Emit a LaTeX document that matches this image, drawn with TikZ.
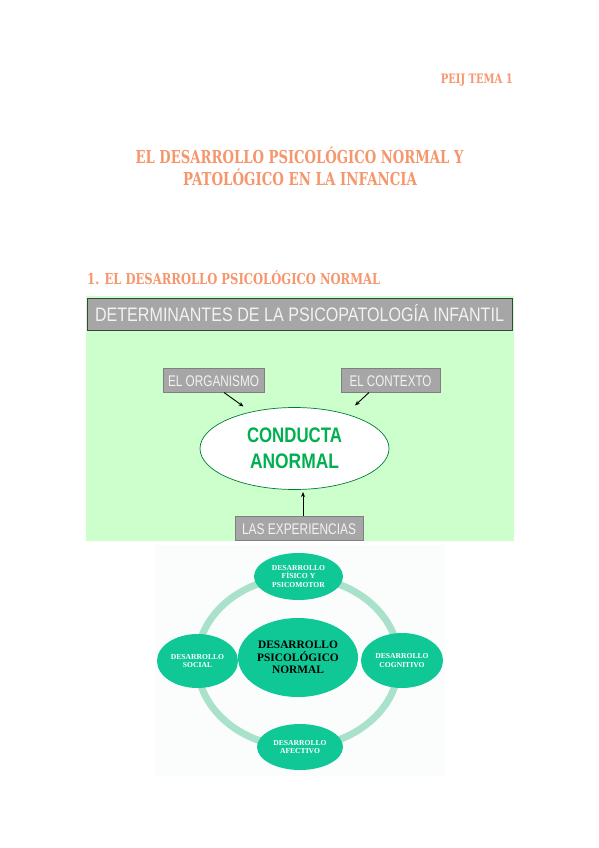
\documentclass[tikz,border=0pt]{standalone}
\usepackage{fontspec}
\usepackage{graphicx}
\setmainfont{Liberation Serif}
\newfontfamily\slab{DejaVu Serif}
\newfontfamily\arial{Liberation Sans}
\usetikzlibrary{arrows.meta,shapes.geometric}
\newsavebox\fitbox
\newcommand\fitx[2]{\sbox\fitbox{#2}\pgfmathsetmacro\myfx{#1/\the\wd\fitbox}\scalebox{\myfx}[1]{\usebox\fitbox}}
\definecolor{orangeh}{RGB}{246,150,108}
\definecolor{lgreen}{RGB}{204,255,204}
\definecolor{boxgray}{RGB}{166,166,166}
\definecolor{boxtext}{RGB}{242,242,242}
\definecolor{condgreen}{RGB}{0,176,80}
\definecolor{teal}{RGB}{16,200,150}
\definecolor{ringc}{RGB}{170,225,202}
\definecolor{faint}{RGB}{251,253,252}
\begin{document}
\begin{tikzpicture}[x=1pt,y=-1pt,
  heading/.style={text=orangeh,inner sep=0pt,anchor=base},
  graybox/.style={draw=black!50,fill=boxgray,text=boxtext,inner sep=0pt,
    text height=11pt,text depth=0pt,font=\fontsize{15.4}{16}\selectfont\arial},
  arr/.style={-{Stealth[length=5pt,width=4pt]},line width=0.9pt,black},
  devnode/.style={ellipse,fill=teal,inner sep=0pt,text=white,align=center,
    font=\fontsize{7.6}{8.4}\selectfont\bfseries},
  ring/.style={draw=ringc,line width=7pt}]
\useasboundingbox (0,0) rectangle (599,848);
\fill[white] (0,0) rectangle (599,848);
% headings
\node[heading,anchor=base east] (tema) at (513,84) {\fitx{72pt}{\fontsize{13}{14}\selectfont\slab\bfseries PEIJ TEMA 1}};
\node[heading] (t1) at (299.5,163) {\fitx{328pt}{\fontsize{17.8}{19}\selectfont\slab\bfseries EL DESARROLLO PSICOLÓGICO NORMAL Y}};
\node[heading] (t2) at (300,185.5) {\fitx{234pt}{\fontsize{17.8}{19}\selectfont\slab\bfseries PATOLÓGICO EN LA INFANCIA}};
\node[heading,anchor=base west] (sec) at (87,284) {\fitx{293pt}{\fontsize{15}{16}\selectfont\slab\bfseries 1. EL DESARROLLO PSICOLÓGICO NORMAL}};
% first diagram
\fill[lgreen] (86,296) rectangle (514,541);
\node[draw=black!75,fill=boxgray,text=boxtext,inner sep=0pt,minimum width=425pt,minimum height=32pt,
  text height=14pt,text depth=0pt] (hdr) at (299.5,314.5)
  {\fitx{409pt}{\fontsize{19.5}{20}\selectfont\arial DETERMINANTES DE LA PSICOPATOLOGÍA INFANTIL}};
\node[graybox,minimum width=101pt,minimum height=24pt] (org) at (213.5,380.5) {\fitx{91pt}{EL ORGANISMO}};
\node[graybox,minimum width=99pt,minimum height=24pt] (ctx) at (390.5,380.5) {\fitx{82pt}{EL CONTEXTO}};
\node[graybox,minimum width=128pt,minimum height=24pt] (exp) at (299,528.5) {\fitx{114pt}{LAS EXPERIENCIAS}};
\node[ellipse,draw=condgreen!70!black,line width=0.7pt,fill=white,minimum width=189pt,minimum height=82pt,inner sep=0pt,
  text=condgreen,align=center,font=\fontsize{21}{27}\selectfont\arial\bfseries] (cond) at (294.5,448.5)
  {\fitx{95pt}{CONDUCTA}\\[-1pt]\fitx{89pt}{ANORMAL}};
\coordinate (a1s) at (224,392.5);
\coordinate (a1e) at (243.5,406.5);
\coordinate (a2s) at (369,392.5);
\coordinate (a2e) at (355,405.5);
\coordinate (a3e) at (303,492);
\draw[arr] (a1s) -- (a1e);
\draw[arr] (a2s) -- (a2e);
\draw[arr] (exp.north -| a3e) -- (a3e);
% second diagram
\fill[faint] (155,545) rectangle (445,776);
\draw[ring] (298,662) ellipse [x radius=101, y radius=85];
\node[devnode,minimum width=89pt,minimum height=47pt] (fis) at (298.5,576.5) {DESARROLLO\\FÍSICO Y\\PSICOMOTOR};
\node[devnode,minimum width=81pt,minimum height=54pt] (soc) at (197.5,661) {DESARROLLO\\SOCIAL};
\node[devnode,minimum width=82pt,minimum height=55pt] (cog) at (402,660.5) {DESARROLLO\\COGNITIVO};
\node[devnode,minimum width=86pt,minimum height=46pt] (afe) at (300,747) {DESARROLLO\\AFECTIVO};
\node[devnode,minimum width=120pt,minimum height=79pt,text=black,
  font=\fontsize{11.4}{12.6}\selectfont\bfseries] (cen) at (298,657.5) {DESARROLLO\\PSICOLÓGICO\\NORMAL};
\end{tikzpicture}
\end{document}
